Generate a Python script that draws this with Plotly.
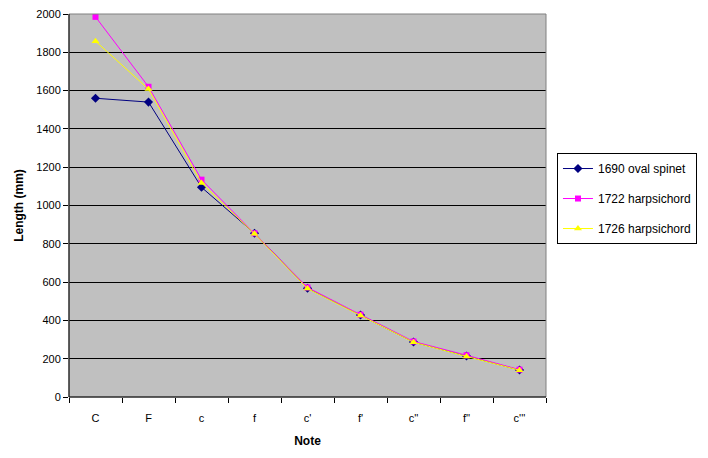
import plotly.graph_objects as go

# 弦の長さ (mm)
notes = ["C", "F", "c", "f", "c'", "f'", "c''", "f''", "c'''"]
spinet_1690 = [1560, 1540, 1095, 855, 568, 428, 287, 214, 141]
harpsichord_1722 = [1985, 1620, 1135, 855, 572, 430, 290, 218, 143]
harpsichord_1726 = [1858, 1608, 1118, 852, 566, 426, 286, 212, 140]
y_ticks = [0, 200, 400, 600, 800, 1000, 1200, 1400, 1600, 1800, 2000]

FONT = "Liberation Sans, Arial, sans-serif"


def add_series(fig, y, name, color, symbol, size, group):
    fig.add_trace(go.Scatter(
        x=notes, y=y, name=name, mode="lines+markers",
        line=dict(color=color, width=1),
        marker=dict(color=color, symbol=symbol, size=size),
        legendgroup=group,
    ))


fig = go.Figure()
add_series(fig, spinet_1690, "1690 oval spinet", "#000080", "diamond", 7, "a")
add_series(fig, harpsichord_1722, "1722 harpsichord", "#FF00FF", "square", 6, "b")
add_series(fig, harpsichord_1726, "1726 harpsichord", "#FFFF00", "triangle-up", 7, "c")

# ページ余白 (8px) を考慮して少し小さく
fig.update_layout(
    width=700, height=450,
    margin=dict(l=61, r=162, t=6, b=61),
    paper_bgcolor="white",
    plot_bgcolor="#C0C0C0",
    font=dict(family=FONT, size=11, color="black"),
    showlegend=True,
    legend=dict(
        x=1.023, y=0.637, xanchor="left", yanchor="top",
        bordercolor="black", borderwidth=1, bgcolor="white",
        font=dict(size=12), tracegroupgap=11,
    ),
    xaxis=dict(
        type="category", range=[-0.5, 8.5], automargin=False,
        tickson="boundaries", ticks="outside", ticklen=5, tickcolor="black",
        showgrid=False, showline=False, ticklabelstandoff=13,
        title=dict(text="<b>Note</b>", font=dict(size=12), standoff=13),
    ),
    yaxis=dict(
        range=[0, 2000], tickvals=y_ticks, ticklabeloverflow="allow",
        automargin=False,
        ticks="outside", ticklen=5, tickcolor="black",
        showgrid=True, gridcolor="black", gridwidth=1,
        zeroline=False, showline=False,
        title=dict(text="<b>Length (mm)</b>", font=dict(size=12), standoff=10),
    ),
    shapes=[
        dict(type="rect", xref="paper", yref="paper", x0=0, y0=0, x1=1, y1=1,
             line=dict(color="#808080", width=1), layer="above"),
        dict(type="line", xref="paper", yref="paper", x0=0, y0=0, x1=0, y1=1,
             line=dict(color="black", width=1), layer="above"),
        dict(type="line", xref="paper", yref="paper", x0=0, y0=0, x1=1, y1=0,
             line=dict(color="black", width=1), layer="above"),
    ],
)

fig.write_html("out.html")
